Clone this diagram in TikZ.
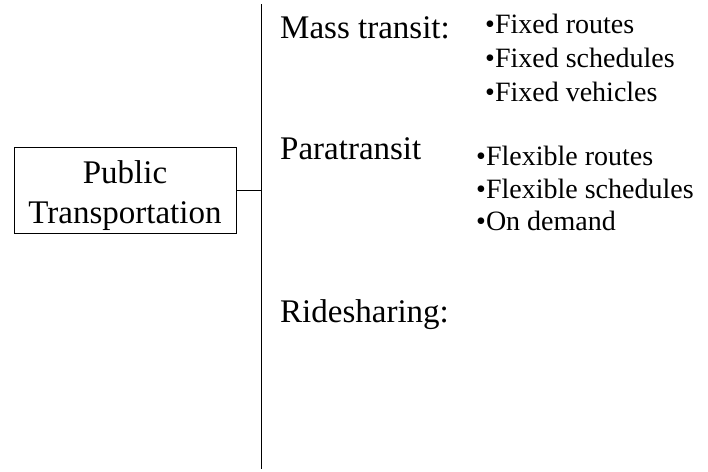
\documentclass[tikz,border=0pt]{standalone}
\usepackage{fontspec}
\setmainfont{Liberation Serif}
\newcommand{\bigtxt}{\fontsize{33}{40}\selectfont}
\newcommand{\smalltxt}{\fontsize{28}{34}\selectfont}
\tikzset{
  x=1pt,y=-1pt,
  line/.style={draw=black,line width=1pt},
  head/.style={inner sep=0pt,anchor=base west,font=\bigtxt},
  item/.style={inner sep=0pt,anchor=base west,font=\smalltxt},
  boxtxt/.style={inner sep=0pt,anchor=base,font=\bigtxt},
}
\begin{document}
\begin{tikzpicture}
\useasboundingbox (0,0) rectangle (708,471);
\node[line,minimum width=222pt,minimum height=86pt,inner sep=0pt] (box) at (125,190) {};
\node[boxtxt] (t1) at (125,183) {Public};
\node[boxtxt] (t2) at (125,223) {Transportation};
\coordinate (top) at (261,4);
\coordinate (bot) at (261,469);
\coordinate (mid) at (261,190);
\draw[line] (top) -- (bot);
\draw[line] (box.east) -- (mid);
\node[head] (mass) at (280,38) {Mass transit:};
\node[item] (m1) at (485,33) {•Fixed routes};
\node[item] (m2) at (485,67) {•Fixed schedules};
\node[item] (m3) at (485,101) {•Fixed vehicles};
\node[head] (para) at (280,159) {Paratransit};
\node[item] (p1) at (476,165) {•Flexible routes};
\node[item] (p2) at (476,198) {•Flexible schedules};
\node[item] (p3) at (476,230) {•On demand};
\node[head] (ride) at (280,322) {Ridesharing:};
\end{tikzpicture}
\end{document}
